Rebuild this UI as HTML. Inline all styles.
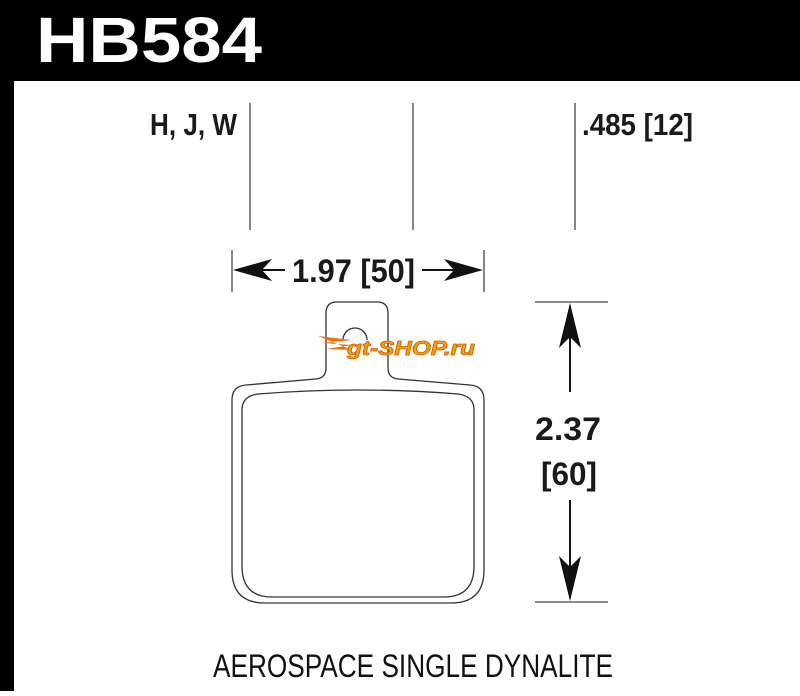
<!DOCTYPE html>
<html><head><style>
html,body{margin:0;padding:0;background:#fff;}
body{width:800px;height:691px;position:relative;overflow:hidden;font-family:"Liberation Sans Narrow","Liberation Sans",sans-serif;}
</style></head><body>
<svg width="800" height="691" viewBox="0 0 800 691" xmlns="http://www.w3.org/2000/svg">
<rect x="0" y="0" width="800" height="81" fill="#000"/>
<rect x="0" y="0" width="14" height="691" fill="#000"/>
<text x="36" y="62" font-family="Liberation Sans" font-weight="bold" font-size="64" fill="#fff" textLength="226" lengthAdjust="spacingAndGlyphs">HB584</text>
<g font-family="Liberation Sans Narrow, Liberation Sans, sans-serif" font-weight="bold" fill="#1a1a1a">
<text x="150" y="135" font-size="31" textLength="87" lengthAdjust="spacingAndGlyphs">H, J, W</text>
<text x="582" y="135" font-size="31" textLength="111" lengthAdjust="spacingAndGlyphs">.485 [12]</text>
<text x="292" y="282" font-size="32" textLength="123" lengthAdjust="spacingAndGlyphs">1.97 [50]</text>
<text x="535" y="440" font-size="32" textLength="66" lengthAdjust="spacingAndGlyphs">2.37</text>
<text x="541" y="485" font-size="32" textLength="56" lengthAdjust="spacingAndGlyphs">[60]</text>
</g>
<text x="213" y="677" font-family="Liberation Sans Narrow, Liberation Sans, sans-serif" font-size="32" fill="#111" textLength="400" lengthAdjust="spacingAndGlyphs">AEROSPACE SINGLE DYNALITE</text>
<g stroke="#444" stroke-width="1.3" fill="none">
<line x1="250" y1="103" x2="250" y2="230"/>
<line x1="413" y1="103" x2="413" y2="230"/>
<line x1="575" y1="103" x2="575" y2="230"/>
<line x1="232" y1="250" x2="232" y2="292"/>
<line x1="484" y1="250" x2="484" y2="292"/>
<line x1="535" y1="302" x2="608" y2="302"/>
<line x1="535" y1="602" x2="608" y2="602"/>
<line x1="236" y1="270" x2="285" y2="270" stroke="#111" stroke-width="2"/>
<line x1="422" y1="270" x2="480" y2="270" stroke="#111" stroke-width="2"/>
<line x1="570" y1="306" x2="570" y2="392" stroke="#111" stroke-width="2"/>
<line x1="570" y1="500" x2="570" y2="598" stroke="#111" stroke-width="2"/>
</g>
<g fill="#111">
<polygon points="233,270 272,259 262,270 272,281"/>
<polygon points="483,270 444,259 454,270 444,281"/>
<polygon points="570,303 559,348 570,337 581,348"/>
<polygon points="570,601 559,556 570,567 581,556"/>
</g>
<g stroke="#333" stroke-width="1.3" fill="none">
<path d="M232 400 Q232 386 246 385 L316 379 Q326 378 326 368 L326 313 Q326 302 337 302 L377 302 Q388 302 388 313 L388 368 Q388 378 398 379 L470 385 Q484 386 484 400 L484 570 Q484 603 451 603 L265 603 Q232 603 232 570 Z"/>
<path d="M242 410 Q242 396 258 394 Q358 386 458 394 Q474 396 474 410 L474 566 Q474 597 444 597 L272 597 Q242 597 242 566 Z"/>
<path d="M343 340 A12 12 0 0 1 367 340"/>
</g>
<path d="M318 336 L352 340 L322 343 L352 345 L326 349 L352 350 Z" fill="#f07010"/>
<text x="347" y="355" font-family="Liberation Sans" font-weight="bold" font-style="italic" font-size="20" fill="#f5a010" stroke="#d06000" stroke-width="0.8" textLength="128" lengthAdjust="spacingAndGlyphs">gt-SHOP.ru</text>
</svg>
</body></html>
